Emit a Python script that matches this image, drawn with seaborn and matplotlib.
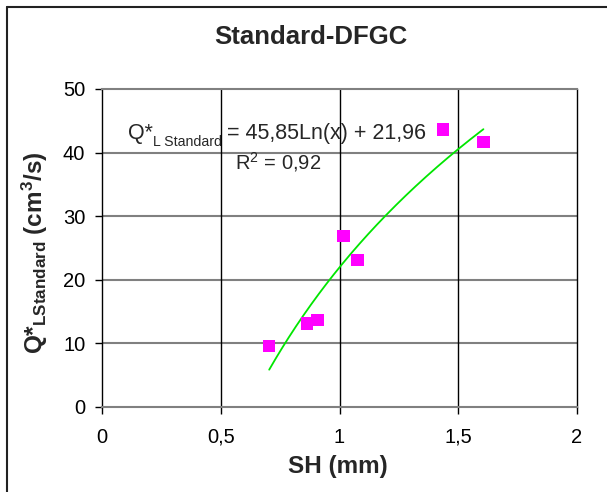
import numpy as np
import pandas as pd
import matplotlib
matplotlib.use("Agg")
import matplotlib.pyplot as plt
import seaborn as sns
from matplotlib.lines import Line2D

# Measured points: sheet height vs. standard leakage flow
sh_mm = [0.704, 0.864, 0.907, 1.016, 1.075, 1.437, 1.606]
q_standard = [9.6, 13.1, 13.7, 26.9, 23.1, 43.6, 41.7]

# Logarithmic trend line  Q = a*ln(x) + b
fit_slope = 45.85
fit_intercept = 21.96
fit_r2 = 0.92

x_ticks = [0, 0.5, 1, 1.5, 2]
x_tick_labels = ["0", "0,5", "1", "1,5", "2"]
y_ticks = [0, 10, 20, 30, 40, 50]
y_tick_labels = ["0", "10", "20", "30", "40", "50"]

sns.set_style("white")
plt.rcParams["font.family"] = ["Liberation Sans", "DejaVu Sans"]
plt.rcParams["mathtext.fontset"] = "custom"
plt.rcParams["mathtext.rm"] = "Liberation Sans"
plt.rcParams["mathtext.bf"] = "Liberation Sans:bold"
plt.rcParams["mathtext.it"] = "Liberation Sans:italic"

W, H = 607, 492
fig = plt.figure(figsize=(W / 100, H / 100), dpi=100)
fig.patch.set_facecolor("white")

L, R, T, B = 102, 577, 89, 407
ax = fig.add_axes([L / W, 1 - B / H, (R - L) / W, (B - T) / H])
ax.set_facecolor("white")


def fx(px):
    return px / W


def fy(py):
    return 1 - py / H


df = pd.DataFrame({"SH": sh_mm, "Q": q_standard})
fit_x = np.linspace(min(sh_mm), max(sh_mm), 200)
fit_df = pd.DataFrame({"SH": fit_x, "Q": fit_slope * np.log(fit_x) + fit_intercept})

sns.lineplot(data=fit_df, x="SH", y="Q", ax=ax, color="#00e600", lw=1.3,
             zorder=3, legend=False)
sns.scatterplot(data=df, x="SH", y="Q", ax=ax, marker="s", s=80,
                color="#ff00ff", edgecolor="none", linewidth=0, zorder=4,
                legend=False)

ax.set_xlim(0, 2)
ax.set_ylim(0, 50)
ax.set_xticks(x_ticks)
ax.set_xticklabels(x_tick_labels)
ax.set_yticks(y_ticks)
ax.set_yticklabels(y_tick_labels)
ax.set_xlabel("")
ax.set_ylabel("")

# Grid: grey horizontal lines, black vertical lines
for yv in y_ticks[1:-1]:
    ax.axhline(yv, color="#808080", lw=1.5, zorder=1)
for xv in x_ticks[1:-1]:
    ax.axvline(xv, color="black", lw=1.0, zorder=1)

ax.spines["left"].set_color("black")
ax.spines["left"].set_linewidth(1.0)
ax.spines["right"].set_color("black")
ax.spines["right"].set_linewidth(1.0)
ax.spines["top"].set_color("#808080")
ax.spines["top"].set_linewidth(1.5)
ax.spines["bottom"].set_color("#808080")
ax.spines["bottom"].set_linewidth(1.5)

ax.tick_params(axis="both", direction="out", length=5, width=1.0,
               color="black", labelsize=14.5, labelcolor="black")
ax.tick_params(axis="x", pad=10, bottom=True)
ax.tick_params(axis="y", pad=7, left=True)

# Titles
fig.text(fx(311), fy(37), "Standard-DFGC", ha="center", va="center",
         fontsize=18.5, fontweight="bold")
fig.text(fx(338), fy(466), "SH (mm)", ha="center", va="center",
         fontsize=17.5, fontweight="bold")
fig.text(fx(35), fy(253),
         r"Q*$_{\mathbf{LStandard}}$ (cm$^{\mathbf{3}}$/s)",
         rotation=90, ha="center", va="center",
         fontsize=17.5, fontweight="bold")

# Trend line equation
fig.text(fx(128), fy(139), "Q*", ha="left", va="baseline", fontsize=15.5)
fig.text(fx(153), fy(146), "L Standard", ha="left", va="baseline", fontsize=10.2)
eq = "= {}Ln(x) + {}".format(f"{fit_slope:.2f}".replace(".", ","),
                             f"{fit_intercept:.2f}".replace(".", ","))
fig.text(fx(227), fy(139), eq, ha="left", va="baseline", fontsize=15.5)
fig.text(fx(235), fy(169),
         "R$^{2}$ = " + f"{fit_r2:.2f}".replace(".", ","),
         ha="left", va="baseline", fontsize=14.5)

# Chart frame
fig.add_artist(Line2D([fx(7), fx(7)], [0, fy(7)], color="#222222", lw=1.5))
fig.add_artist(Line2D([fx(7), 1], [fy(7), fy(7)], color="#222222", lw=1.5))

fig.savefig("out.png", dpi=100)
